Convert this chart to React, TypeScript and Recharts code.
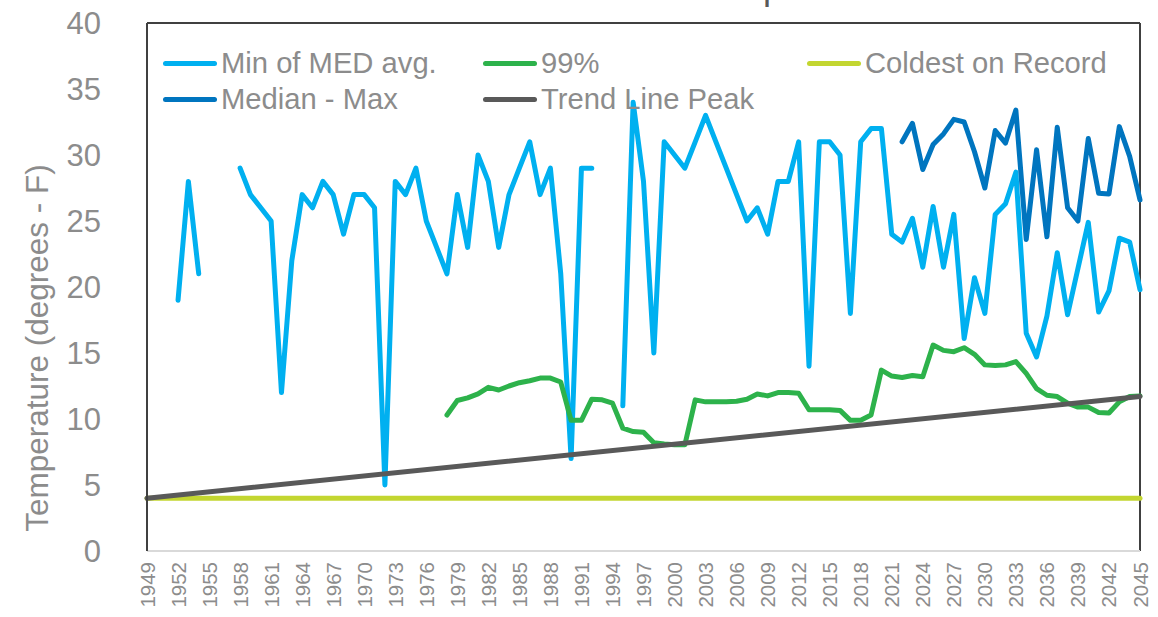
import React from 'react';
import { LineChart, Line, XAxis, YAxis, ReferenceLine, Legend, Customized } from 'recharts';

const FONT = '"Liberation Sans", Arial, sans-serif';
const TEXT_GRAY = '#8c8c8c';

const years = [
  '1949', '1950', '1951', '1952', '1953', '1954', '1955', '1956', '1957', '1958',
  '1959', '1960', '1961', '1962', '1963', '1964', '1965', '1966', '1967', '1968',
  '1969', '1970', '1971', '1972', '1973', '1974', '1975', '1976', '1977', '1978',
  '1979', '1980', '1981', '1982', '1983', '1984', '1985', '1986', '1987', '1988',
  '1989', '1990', '1991', '1992', '1993', '1994', '1995', '1996', '1997', '1998',
  '1999', '2000', '2001', '2002', '2003', '2004', '2005', '2006', '2007', '2008',
  '2009', '2010', '2011', '2012', '2013', '2014', '2015', '2016', '2017', '2018',
  '2019', '2020', '2021', '2022', '2023', '2024', '2025', '2026', '2027', '2028',
  '2029', '2030', '2031', '2032', '2033', '2034', '2035', '2036', '2037', '2038',
  '2039', '2040', '2041', '2042', '2043', '2044', '2045',
];

// Min of MED avg. (1949 - 2045, null = no value)
const minMedAvg: (number | null)[] = [
  null, null, null, 19, 28, 21, null, null, null,
  29, 27, 26, 25, 12, 22, 27, 26, 28, 27,
  24, 27, 27, 26, 5, 28, 27, 29, 25, 23,
  21, 27, 23, 30, 28, 23, 27, 29, 31, 27,
  29, 21, 7, 29, 29, null, null,
  11, 34, 28, 15, 31, 30, 29, 31, 33, 31,
  29, 27, 25, 26, 24, 28, 28, 31, 14, 31,
  31, 30, 18, 31, 32, 32, 24, 23.4, 25.2, 21.5,
  26.1, 21.5, 25.5, 16.1, 20.7, 18, 25.5, 26.3, 28.7, 16.5,
  14.7, 17.8, 22.6, 17.9, 21.4, 24.9, 18.1, 19.7, 23.7, 23.4, 19.8,
];

// 99% (starts 1978)
const pct99Start = '1978';
const pct99 = [
  10.3, 11.4, 11.6, 11.9, 12.4, 12.2, 12.5, 12.75, 12.9, 13.1,
  13.1, 12.8, 9.9, 9.9, 11.5, 11.45, 11.2, 9.3, 9.05, 9.0,
  8.2, 8.1, 8.05, 8.05, 11.45, 11.3, 11.3, 11.3, 11.35, 11.5,
  11.9, 11.75, 12.0, 12.0, 11.95, 10.7, 10.7, 10.7, 10.65, 9.9,
  9.9, 10.3, 13.7, 13.25, 13.15, 13.3, 13.2, 15.6, 15.2, 15.1,
  15.4, 14.9, 14.1, 14.05, 14.1, 14.35, 13.45, 12.3, 11.8, 11.7,
  11.2, 10.9, 10.9, 10.5, 10.45, 11.3, 11.7, 11.75,
];

// Median - Max (starts 2022)
const medianMaxStart = '2022';
const medianMax = [
  31.0, 32.4, 28.9, 30.8, 31.6, 32.7, 32.5, 30.25, 27.5, 31.85,
  30.9, 33.4, 23.6, 30.4, 23.8, 32.1, 26.0, 25.0, 31.25, 27.1,
  27.05, 32.15, 29.9, 26.6,
];

// Straight lines: values at their end years
const lineEndYears = ['1949', '2045'];
const coldestOnRecord = [4, 4];
const trendLinePeak = [4, 11.7];

const yTicks = [0, 5, 10, 15, 20, 25, 30, 35, 40];

const pctStartIdx = years.indexOf(pct99Start);
const medStartIdx = years.indexOf(medianMaxStart);

const data = years.map((year, i) => {
  const endIdx = lineEndYears.indexOf(year);
  return {
    year,
    minMed: minMedAvg[i],
    p99: i >= pctStartIdx ? pct99[i - pctStartIdx] : null,
    coldest: endIdx >= 0 ? coldestOnRecord[endIdx] : null,
    medMax: i >= medStartIdx ? medianMax[i - medStartIdx] : null,
    trend: endIdx >= 0 ? trendLinePeak[endIdx] : null,
  };
});

const legendSlots: Record<string, { left: number; top: number }> = {
  'Min of MED avg.': { left: 163, top: 63 },
  '99%': { left: 483, top: 63 },
  'Coldest on Record': { left: 807, top: 63 },
  'Median - Max': { left: 163, top: 99 },
  'Trend Line Peak': { left: 483, top: 99 },
};

const LegendContent = (props: any) => {
  const payload = props.payload || [];
  return (
    <div style={{ position: 'relative', width: 1158, height: 0 }}>
      {payload.map((p: any) => {
        const slot = legendSlots[p.value];
        if (!slot) return null;
        return (
          <div
            key={p.value}
            style={{
              position: 'absolute',
              left: slot.left,
              top: slot.top - 18,
              height: 36,
              display: 'flex',
              alignItems: 'center',
              whiteSpace: 'nowrap',
            }}
          >
            <span
              style={{
                display: 'inline-block',
                width: 54,
                height: 5,
                borderRadius: 3,
                background: p.color,
              }}
            />
            <span
              style={{
                marginLeft: 4,
                fontSize: 29.2,
                lineHeight: '36px',
                color: TEXT_GRAY,
                fontFamily: FONT,
              }}
            >
              {p.value}
            </span>
          </div>
        );
      })}
    </div>
  );
};

const YearTick = (props: any) => {
  const { x, y, payload } = props;
  return (
    <text
      x={x}
      y={y}
      transform={`rotate(-90, ${x}, ${y})`}
      textAnchor="end"
      dominantBaseline="central"
      fill={TEXT_GRAY}
      fontSize={20.5}
      fontFamily={FONT}
    >
      {payload.value}
    </text>
  );
};

const AxisTitle = () => (
  <text
    x={37}
    y={348}
    transform="rotate(-90, 37, 348)"
    textAnchor="middle"
    dominantBaseline="central"
    fill={TEXT_GRAY}
    fontSize={31.5}
    fontFamily={FONT}
  >
    Temperature (degrees - F)
  </text>
);

const ChartTitle = () => (
  <text x={763} y={-1.5} fill="#595959" fontSize={36} fontFamily={FONT}>
    p
  </text>
);

const lineCommon = {
  type: 'linear' as const,
  dot: false,
  activeDot: false,
  isAnimationActive: false,
  strokeWidth: 5,
  strokeLinecap: 'round' as const,
  strokeLinejoin: 'round' as const,
};

export default function App() {
  return (
    <div style={{ position: 'absolute', left: 0, top: 0, width: 1158, height: 617, background: '#fff' }}>
      <LineChart
        width={1158}
        height={617}
        data={data}
        margin={{ top: 23, right: 18, bottom: 6, left: 0 }}
      >
        <XAxis
          dataKey="year"
          interval={2}
          tickLine={false}
          tickSize={6}
          tickMargin={5}
          height={60}
          axisLine={{ stroke: '#D9D9D9', strokeWidth: 2 }}
          tick={<YearTick />}
        />
        <YAxis
          width={147}
          domain={[0, 40]}
          ticks={yTicks}
          allowDataOverflow
          tickLine={false}
          tickSize={0}
          tickMargin={46}
          axisLine={{ stroke: '#404040', strokeWidth: 2 }}
          tick={{ fill: TEXT_GRAY, fontSize: 31, fontFamily: FONT }}
          label={{ value: 'Temperature (degrees - F)', content: AxisTitle }}
        />
        <ReferenceLine y={40} stroke="#404040" strokeWidth={2} />
        <ReferenceLine x="2045" stroke="#404040" strokeWidth={2} />
        <Legend
          content={<LegendContent />}
          layout="horizontal"
          verticalAlign="middle"
          wrapperStyle={{ top: 0, left: 0, width: 1158, height: 0 }}
        />
        <Line {...lineCommon} dataKey="minMed" name="Min of MED avg." stroke="#00B0F0" />
        <Line {...lineCommon} dataKey="p99" name="99%" stroke="#2DB24B" />
        <Line {...lineCommon} dataKey="coldest" name="Coldest on Record" stroke="#C3D630" connectNulls />
        <Line {...lineCommon} dataKey="medMax" name="Median - Max" stroke="#0075BF" />
        <Line {...lineCommon} dataKey="trend" name="Trend Line Peak" stroke="#595959" connectNulls />
        <Customized component={ChartTitle} />
      </LineChart>
    </div>
  );
}
